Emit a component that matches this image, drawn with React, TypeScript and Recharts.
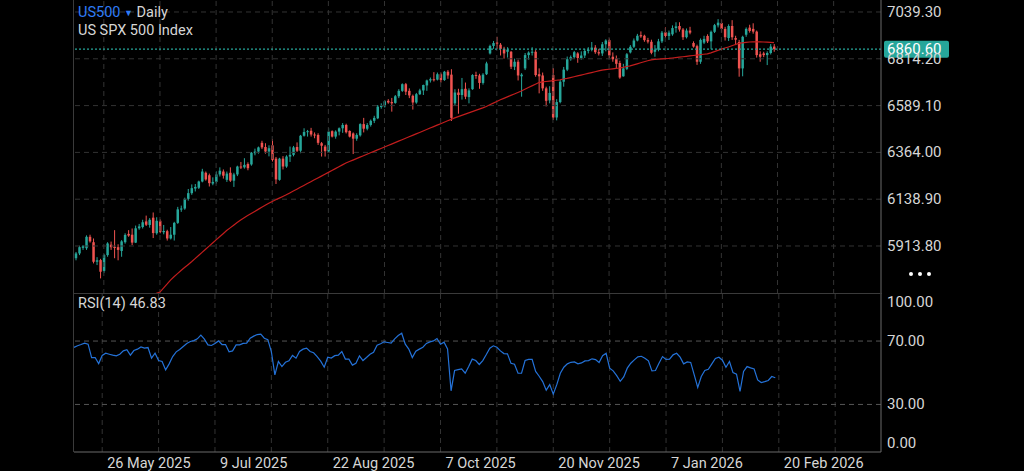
import React from 'react'
import { ComposedChart, Bar, Line, XAxis, YAxis, ReferenceLine } from 'recharts'

// ---- look ----
const FONT = 'Roboto, "Noto Sans", sans-serif'
const BG = '#000000'
const TEXT = '#d6d6d6'
const UP = '#26a69a'
const DOWN = '#ef5350'
const MA_COLOR = '#c21d1d'
const RSI_COLOR = '#2472d8'
const GRID = '#333333'
const AXIS = '#6a6a6a'
const AXIS_FONT = 15

// ---- data ----
// daily candles [open, high, low, close], 14 May 2025 .. 19 Feb 2026
const candles: number[][] = [
  // May
  [5855, 5885, 5845, 5878], [5878, 5915, 5870, 5908], [5905, 5918, 5895, 5912], [5903, 5965, 5895, 5958],
  [5958, 5968, 5930, 5936], [5932, 5950, 5830, 5838], [5838, 5860, 5822, 5845], [5846, 5852, 5758, 5790],
  [5794, 5875, 5785, 5870], [5870, 5932, 5862, 5926], [5920, 5935, 5895, 5908], [5910, 5990, 5855, 5904],
  [5908, 5922, 5845, 5895],
  // Jun
  [5890, 5942, 5862, 5936], [5932, 5975, 5925, 5967], [5972, 5990, 5958, 5964], [5968, 5998, 5918, 5930],
  [5930, 6012, 5928, 5999], [5999, 6020, 5992, 6008], [6005, 6040, 5998, 6028], [6032, 6060, 6010, 6016],
  [6015, 6048, 6002, 6040], [6050, 6075, 5952, 5976], [5975, 6052, 5968, 6035], [6035, 6042, 5975, 5982],
  [5980, 6015, 5970, 5986], [5985, 5992, 5940, 5950], [5950, 6005, 5945, 5968], [5968, 6030, 5940, 6025],
  [6025, 6102, 6020, 6090], [6090, 6108, 6078, 6094], [6094, 6146, 6088, 6140], [6140, 6188, 6132, 6168],
  [6168, 6210, 6160, 6192],
  // Jul
  [6190, 6212, 6176, 6198], [6194, 6228, 6188, 6224], [6224, 6285, 6220, 6272], [6266, 6272, 6228, 6234],
  [6254, 6262, 6200, 6216], [6214, 6244, 6206, 6222], [6222, 6272, 6214, 6258], [6258, 6292, 6248, 6276],
  [6272, 6282, 6238, 6252], [6232, 6272, 6222, 6262], [6266, 6292, 6222, 6228], [6228, 6266, 6198, 6258],
  [6258, 6300, 6250, 6296], [6296, 6318, 6284, 6292], [6292, 6336, 6286, 6304], [6308, 6316, 6278, 6288],
  [6306, 6366, 6300, 6362], [6360, 6382, 6350, 6368], [6368, 6392, 6358, 6388], [6410, 6420, 6380, 6388],
  [6390, 6408, 6358, 6368], [6368, 6398, 6345, 6384], [6398, 6428, 6320, 6328],
  // Aug
  [6334, 6342, 6212, 6234], [6232, 6338, 6228, 6334], [6334, 6346, 6282, 6296], [6296, 6350, 6290, 6344],
  [6344, 6392, 6318, 6352], [6352, 6395, 6345, 6388], [6390, 6412, 6366, 6372], [6372, 6448, 6360, 6444],
  [6444, 6480, 6440, 6462], [6462, 6472, 6440, 6466], [6468, 6482, 6440, 6450], [6450, 6460, 6432, 6446],
  [6448, 6456, 6400, 6410], [6408, 6414, 6344, 6396], [6392, 6400, 6344, 6370], [6368, 6480, 6364, 6464],
  [6466, 6470, 6436, 6440], [6440, 6470, 6430, 6464], [6464, 6484, 6446, 6480], [6480, 6505, 6458, 6496],
  [6496, 6502, 6455, 6461],
  // Sep
  [6467, 6470, 6436, 6440], [6455, 6460, 6356, 6430], [6430, 6456, 6420, 6448], [6446, 6504, 6440, 6500],
  [6500, 6530, 6460, 6478], [6478, 6505, 6470, 6496], [6496, 6522, 6488, 6516], [6516, 6540, 6505, 6530],
  [6528, 6592, 6524, 6584], [6582, 6600, 6574, 6588], [6586, 6616, 6580, 6610], [6612, 6620, 6598, 6604],
  [6606, 6626, 6560, 6600], [6602, 6640, 6598, 6634], [6634, 6668, 6625, 6660], [6660, 6696, 6655, 6692],
  [6692, 6698, 6640, 6656], [6660, 6672, 6625, 6638], [6636, 6642, 6570, 6604], [6604, 6650, 6598, 6644],
  [6644, 6670, 6640, 6662], [6662, 6690, 6640, 6688],
  // Oct
  [6686, 6714, 6660, 6710], [6710, 6724, 6700, 6716], [6716, 6750, 6705, 6714], [6714, 6748, 6710, 6740],
  [6740, 6748, 6700, 6712], [6712, 6756, 6708, 6752], [6752, 6760, 6718, 6734], [6738, 6764, 6515, 6530],
  [6600, 6668, 6590, 6652], [6652, 6670, 6550, 6640], [6640, 6722, 6618, 6668], [6670, 6700, 6620, 6632],
  [6630, 6672, 6600, 6662], [6668, 6740, 6665, 6736], [6736, 6752, 6718, 6734], [6734, 6742, 6670, 6698],
  [6698, 6745, 6690, 6738], [6740, 6800, 6736, 6792], [6840, 6882, 6835, 6876], [6876, 6900, 6862, 6890],
  [6892, 6920, 6860, 6888], [6882, 6890, 6830, 6862], [6862, 6872, 6815, 6840],
  // Nov
  [6848, 6870, 6820, 6858], [6848, 6852, 6765, 6776], [6776, 6815, 6760, 6800], [6800, 6810, 6710, 6734],
  [6730, 6745, 6632, 6738], [6768, 6842, 6760, 6832], [6832, 6850, 6810, 6844], [6844, 6870, 6830, 6848],
  [6848, 6856, 6728, 6736], [6740, 6768, 6648, 6730], [6734, 6748, 6660, 6672], [6672, 6680, 6585, 6612],
  [6614, 6682, 6600, 6650], [6736, 6770, 6520, 6532], [6532, 6620, 6518, 6606], [6606, 6712, 6600, 6704],
  [6704, 6775, 6680, 6762], [6762, 6825, 6755, 6812], [6812, 6830, 6805, 6822], [6822, 6852, 6815, 6846],
  // Dec
  [6840, 6846, 6795, 6818], [6818, 6850, 6810, 6830], [6830, 6862, 6818, 6852], [6852, 6870, 6840, 6858],
  [6858, 6895, 6850, 6868], [6868, 6880, 6838, 6846], [6846, 6862, 6830, 6840], [6840, 6895, 6828, 6884],
  [6884, 6908, 6850, 6902], [6904, 6912, 6815, 6830], [6824, 6845, 6800, 6812], [6816, 6830, 6770, 6790],
  [6794, 6805, 6718, 6724], [6730, 6790, 6728, 6768], [6766, 6842, 6760, 6836], [6845, 6880, 6840, 6872],
  [6872, 6912, 6866, 6902], [6902, 6934, 6898, 6925], [6928, 6946, 6915, 6922], [6925, 6930, 6896, 6904],
  [6904, 6915, 6888, 6897], [6896, 6906, 6836, 6843],
  // Jan
  [6848, 6880, 6824, 6858], [6858, 6910, 6850, 6898], [6898, 6948, 6890, 6940], [6942, 6965, 6915, 6924],
  [6924, 6950, 6905, 6940], [6932, 6975, 6925, 6962], [6962, 6990, 6940, 6970], [6972, 6990, 6945, 6955],
  [6955, 6962, 6905, 6918], [6918, 6960, 6912, 6950], [6950, 6968, 6932, 6940], [6890, 6898, 6868, 6873],
  [6875, 6882, 6785, 6800], [6800, 6912, 6790, 6905], [6892, 6925, 6885, 6910], [6924, 6932, 6890, 6898],
  [6898, 6950, 6860, 6944], [6944, 6982, 6938, 6976], [6975, 7005, 6965, 6988], [6986, 7002, 6940, 6958],
  [6958, 6968, 6902, 6918],
  // Feb
  [6914, 6980, 6900, 6972], [6972, 7000, 6905, 6918], [6914, 6925, 6880, 6906], [6895, 6905, 6728, 6768],
  [6768, 6925, 6730, 6920], [6930, 6965, 6920, 6958], [6964, 6978, 6940, 6948], [6958, 6985, 6935, 6945],
  [6945, 6950, 6820, 6832], [6836, 6850, 6800, 6824], [6840, 6848, 6822, 6832], [6832, 6850, 6784, 6842],
  [6842, 6885, 6835, 6873], [6873, 6885, 6848, 6860.6],
]

// red moving average, one value per candle
const ma50 = [
  5520, 5528, 5535, 5541, 5549, 5556, 5562, 5570, 5577, 5583, 5591, 5598, 5604, 5612, 5619, 5626, 5634, 5641, 5649, 5657, 5664, 5672, 5679, 5686,
  5692, 5711, 5730, 5750, 5766, 5781, 5796, 5810, 5824, 5838,
  5853, 5868, 5883, 5898, 5913, 5928, 5943, 5958, 5973, 5988,
  6001, 6014, 6027, 6039, 6050, 6060, 6070, 6080, 6090, 6100,
  6110, 6119, 6128, 6136, 6144, 6152, 6160, 6169, 6178, 6187,
  6196, 6205, 6214, 6223, 6232, 6241, 6250, 6259, 6268, 6277,
  6286, 6295, 6304, 6313, 6320, 6327, 6334, 6341, 6348, 6355,
  6362, 6369, 6376, 6383, 6390, 6397, 6404, 6411, 6418, 6425,
  6432, 6439, 6446, 6453, 6460, 6467, 6474, 6481, 6488, 6495,
  6502, 6509, 6516, 6523, 6530, 6536, 6542, 6548, 6554, 6560,
  6566, 6572, 6578, 6585, 6593, 6601, 6609, 6617, 6624, 6631,
  6638, 6645, 6652, 6659, 6668, 6676, 6684, 6692, 6700, 6703,
  6705, 6707, 6709, 6711, 6713, 6717, 6720, 6724, 6728, 6732,
  6736, 6740, 6744, 6748, 6752, 6756, 6760, 6762, 6764, 6766,
  6768, 6770, 6773, 6777, 6780, 6785, 6790, 6795, 6800, 6805,
  6809, 6811, 6813, 6814, 6815, 6816, 6818, 6820, 6822, 6824,
  6826, 6828, 6830, 6832, 6834, 6836, 6838, 6843, 6849, 6855,
  6861, 6866, 6871, 6877, 6883, 6888, 6891, 6893, 6895, 6896,
  6896, 6896, 6895, 6894, 6893, 6892,
]

const rsi14 = [
  66.0, 67.0, 67.8, 68.7, 68.0, 59.6, 59.6, 55.8, 60.9, 62.3,
  61.7, 61.1, 60.7, 61.7, 63.8, 64.5, 61.1, 64.0, 64.9, 66.3,
  65.5, 65.9, 59.2, 62.3, 57.7, 57.1, 51.8, 55.6, 60.2, 63.2,
  64.7, 66.6, 68.5, 69.7, 70.3, 71.4, 73.7, 71.2, 67.6, 67.2,
  68.5, 70.1, 67.8, 67.8, 63.2, 63.8, 67.6, 67.6, 68.5, 68.7,
  71.8, 73.1, 74.1, 74.4, 71.8, 70.9, 63.4, 48.7, 57.1, 53.9,
  56.6, 57.5, 60.9, 59.2, 63.4, 64.9, 65.5, 63.4, 62.6, 60.2,
  57.3, 53.5, 59.8, 59.3, 60.8, 61.1, 63.4, 58.6, 58.6, 54.8,
  56.0, 60.7, 57.7, 59.6, 61.7, 62.9, 67.4, 68.3, 69.5, 69.1,
  68.7, 71.4, 73.5, 74.9, 68.0, 64.9, 59.6, 63.6, 64.9, 66.1,
  68.5, 69.5, 70.1, 71.6, 68.0, 69.3, 65.0, 38.6, 51.4, 52.0,
  52.4, 49.7, 53.9, 58.6, 57.7, 55.2, 57.7, 61.5, 65.5, 67.0,
  66.1, 63.8, 62.1, 61.9, 56.0, 55.4, 49.7, 49.7, 57.7, 58.4,
  58.4, 50.8, 47.8, 44.4, 39.0, 42.5, 36.5, 42.5, 49.7, 53.5,
  55.6, 56.6, 56.8, 55.6, 56.2, 57.5, 57.7, 58.8, 58.3, 56.5,
  60.8, 62.3, 52.9, 51.2, 48.2, 44.6, 47.4, 52.9, 56.0, 58.1,
  60.0, 60.4, 59.2, 57.5, 51.2, 51.4, 56.0, 60.2, 58.4, 58.6,
  61.3, 62.3, 59.8, 55.6, 56.8, 56.5, 48.7, 40.8, 47.6, 51.4,
  52.2, 55.6, 59.0, 59.8, 57.9, 53.5, 57.1, 50.1, 49.1, 38.2,
  50.8, 53.9, 53.1, 52.4, 45.5, 43.8, 44.4, 45.1, 47.6, 46.83,
]

const FUTURE_BARS = 30 // empty slots to the right of the last candle

// x grid every 16 bars, every second one labelled
const gridTicks = [8, 24, 40, 56, 72, 88, 104, 120, 136, 152, 168, 184, 200, 216]
const labelTicks = [8, 40, 72, 104, 136, 168, 200]
const dateLabels = ['26 May 2025', '9 Jul 2025', '22 Aug 2025', '7 Oct 2025', '20 Nov 2025', '7 Jan 2026', '20 Feb 2026']

const priceTicks = [5913.8, 6138.9, 6364.0, 6589.1, 6814.2, 7039.3]
const rsiTicks = [0, 30, 70, 100]
const lastPrice = 6860.6
const lastRsi = 46.83

const data = Array.from({ length: candles.length + FUTURE_BARS }, (_, i) => {
  const c = candles[i]
  return {
    i,
    ohlc: c || null,
    hl: c ? [c[2], c[1]] : null,
    ma: ma50[i] ?? null,
    rsi: rsi14[i] ?? null,
  }
})

// ---- layout ----
const W = 1024
const LEFT = 74
const AXIS_W = 143
const PRICE_H = 294
const RSI_TOP = 293
const RSI_H = 178

function Candle(props: any) {
  const { x, y, width, height, payload } = props
  const c = payload && payload.ohlc
  if (!c) return null
  const [o, h, l, cl] = c
  const top = Math.min(y, y + height)
  const span = Math.abs(height)
  const k = span / (h - l || 1)
  const yOf = (v: number) => top + (h - v) * k
  const color = cl >= o ? UP : DOWN
  const cx = x + width / 2
  const bTop = yOf(Math.max(o, cl))
  const bBot = yOf(Math.min(o, cl))
  const bw = 2.5
  return (
    <g>
      <line x1={cx} x2={cx} y1={top} y2={top + span} stroke={color} strokeWidth={1} />
      <rect x={cx - bw / 2} y={bTop} width={bw} height={Math.max(bBot - bTop, 1)} fill={color} />
    </g>
  )
}

const PriceTick = ({ x, y, payload }: any) => (
  <text x={x} y={y} dy={5} fill={TEXT} fontSize={AXIS_FONT} fontFamily={FONT} textAnchor="start">
    {payload.value.toFixed(2)}
  </text>
)

const RsiTick = ({ x, y, payload }: any) => {
  const v = payload.value
  const shift = v === 100 ? 8.5 : v === 0 ? -9 : 0
  return (
    <text x={x} y={y + shift} dy={5} fill={TEXT} fontSize={AXIS_FONT} fontFamily={FONT} textAnchor="start">
      {v.toFixed(2)}
    </text>
  )
}

const DateTick = ({ x, y, payload }: any) => {
  const idx = labelTicks.indexOf(payload.value)
  if (idx < 0) return null
  return (
    <text x={x + 5} y={y + 14} fill={TEXT} fontSize={14.5} fontFamily={FONT} textAnchor="start">
      {dateLabels[idx]}
    </text>
  )
}

const PriceTag = ({ viewBox }: any) => {
  if (!viewBox) return null
  const x = viewBox.x + viewBox.width + 3
  const y = viewBox.y
  return (
    <g>
      <rect x={x} y={y - 8.5} width={65} height={17} rx={2} fill={UP} />
      <text x={x + 3} y={y + 5} fill="#ffffff" fontSize={AXIS_FONT} fontFamily={FONT}>
        {lastPrice.toFixed(2)}
      </text>
    </g>
  )
}

function PriceChart() {
  return (
    <ComposedChart
      width={W}
      height={PRICE_H}
      data={data}
      margin={{ top: 0, right: 0, bottom: 0, left: LEFT }}
      barCategoryGap={0}
      barGap={0}
    >
      <XAxis dataKey="i" type="category" hide />
      <YAxis
        orientation="right"
        domain={[5682.9, 7097.0]}
        allowDataOverflow
        ticks={priceTicks}
        interval={0}
        width={AXIS_W}
        tick={<PriceTick />}
        tickLine={false}
        tickSize={0}
        tickMargin={6}
        axisLine={{ stroke: AXIS }}
      />
      {priceTicks.map((p) => (
        <ReferenceLine key={'h' + p} y={p} stroke={GRID} strokeDasharray="5 4" />
      ))}
      {gridTicks.map((t) => (
        <ReferenceLine key={'v' + t} x={t} stroke={GRID} strokeDasharray="5 4" />
      ))}
      <Bar dataKey="hl" shape={<Candle />} isAnimationActive={false} />
      <Line
        dataKey="ma"
        stroke={MA_COLOR}
        strokeWidth={1.2}
        dot={false}
        activeDot={false}
        isAnimationActive={false}
      />
      <ReferenceLine y={lastPrice} stroke={UP} strokeDasharray="2 2" strokeWidth={1.2} label={<PriceTag />} />
    </ComposedChart>
  )
}

function RsiChart() {
  return (
    <ComposedChart
      width={W}
      height={RSI_H}
      data={data}
      margin={{ top: 0.5, right: 0, bottom: 0, left: LEFT }}
    >
      <XAxis
        dataKey="i"
        type="category"
        ticks={gridTicks}
        interval={0}
        height={19}
        tick={<DateTick />}
        tickLine={false}
        tickSize={0}
        axisLine={{ stroke: AXIS }}
      />
      <YAxis
        orientation="right"
        domain={[0, 100]}
        ticks={rsiTicks}
        interval={0}
        width={AXIS_W}
        tick={<RsiTick />}
        tickLine={false}
        tickSize={0}
        tickMargin={6}
        axisLine={{ stroke: AXIS }}
      />
      {gridTicks.map((t) => (
        <ReferenceLine key={'v' + t} x={t} stroke={GRID} strokeDasharray="5 4" />
      ))}
      <ReferenceLine y={70} stroke="#555555" strokeDasharray="5 4" />
      <ReferenceLine y={30} stroke="#555555" strokeDasharray="5 4" />
      <Line
        dataKey="rsi"
        stroke={RSI_COLOR}
        strokeWidth={1.2}
        dot={false}
        activeDot={false}
        isAnimationActive={false}
      />
    </ComposedChart>
  )
}

export default function App() {
  return (
    <div
      style={{
        position: 'absolute',
        left: 0,
        top: 0,
        width: W,
        height: 471,
        background: BG,
        overflow: 'hidden',
        fontFamily: FONT,
      }}
    >
      <div style={{ position: 'absolute', left: 0, top: 0 }}>
        <PriceChart />
      </div>
      <div style={{ position: 'absolute', left: 0, top: RSI_TOP }}>
        <RsiChart />
      </div>

      {/* panel frame */}
      <div style={{ position: 'absolute', left: 73, top: 0, width: 1, height: 452, background: '#3a3a3a' }} />
      <div style={{ position: 'absolute', left: 73, top: 293, width: 808, height: 1, background: '#3a3a3a' }} />

      {/* legends */}
      <div style={{ position: 'absolute', left: 78, top: 4, fontSize: 14.5, lineHeight: '18px', color: TEXT }}>
        <div>
          <span style={{ color: '#2f7cf6' }}>US500</span>{' '}
          <span style={{ color: '#2f7cf6', fontSize: 9, verticalAlign: 'middle' }}>▼</span> Daily
        </div>
        <div>US SPX 500 Index</div>
      </div>
      <div style={{ position: 'absolute', left: 78, top: 295, fontSize: 14.5, lineHeight: '18px', color: TEXT }}>
        RSI(14) {lastRsi.toFixed(2)}
      </div>

      {/* more menu */}
      <div style={{ position: 'absolute', left: 909, top: 272, display: 'flex', gap: 5 }}>
        {[0, 1, 2].map((d) => (
          <div key={d} style={{ width: 4, height: 4, borderRadius: 2, background: '#ffffff' }} />
        ))}
      </div>
    </div>
  )
}
